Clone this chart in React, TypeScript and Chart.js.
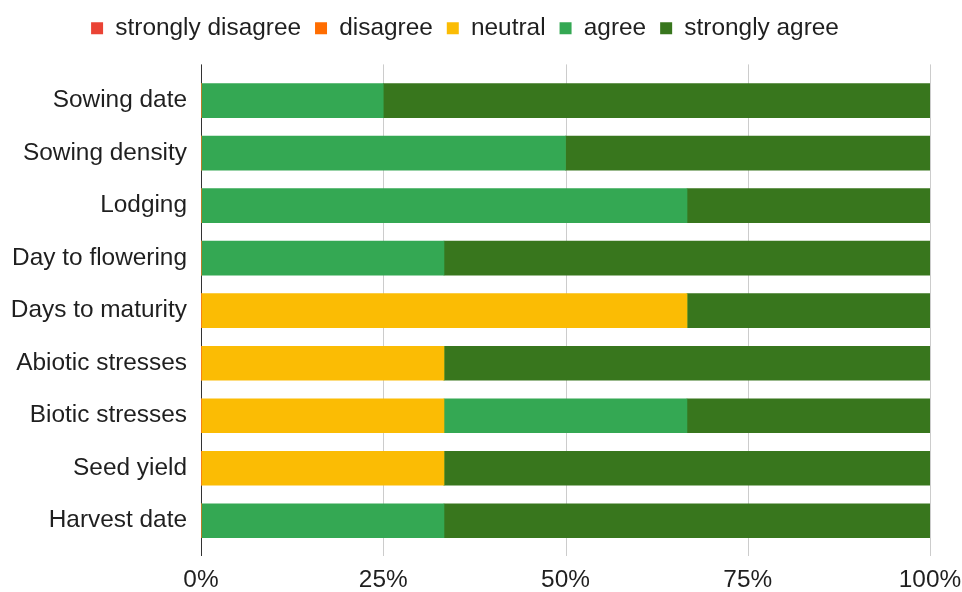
import React, { useEffect, useRef } from "react";
import { Chart, registerables } from "chart.js";

Chart.register(...registerables);

const categories = [
  "Sowing date",
  "Sowing density",
  "Lodging",
  "Day to flowering",
  "Days to maturity",
  "Abiotic stresses",
  "Biotic stresses",
  "Seed yield",
  "Harvest date",
];
const stronglyDisagree = [0, 0, 0, 0, 0, 0, 0, 0, 0];
const disagree = [0, 0, 0, 0, 0, 0, 0, 0, 0];
const neutral = [0, 0, 0, 0, 66.67, 33.33, 33.33, 33.33, 0];
const agree = [25, 50, 66.67, 33.33, 0, 0, 33.33, 0, 33.33];
const stronglyAgree = [75, 50, 33.33, 66.67, 33.33, 66.67, 33.34, 66.67, 66.67];
const xTicks = [0, 25, 50, 75, 100];

const FONT = "'Liberation Sans', Arial, sans-serif";
const FS = 24.4;

const gridPlugin = {
  id: "gridExt",
  beforeInit(chart: any) {
    const legend = chart.legend;
    if (legend) {
      const fit = legend.fit;
      legend.fit = function () {
        fit.call(this);
        this.height += 24;
      };
    }
  },
  afterLayout(chart: any) {
    const legend = chart.legend;
    if (legend) {
      legend.left -= 16;
      legend.right -= 16;
    }
  },
  beforeDatasetsDraw(chart: any) {
    const { ctx, chartArea, scales } = chart;
    const x = scales.x;
    ctx.save();
    ctx.lineWidth = 1;
    xTicks.forEach((v) => {
      const px = Math.round(x.getPixelForValue(v)) + 0.5;
      ctx.strokeStyle = v === 0 ? "#333333" : "#cccccc";
      ctx.beginPath();
      ctx.moveTo(px, chartArea.top - 10);
      ctx.lineTo(px, chartArea.bottom + 9);
      ctx.stroke();
    });
    ctx.restore();
  },
};

export default function App() {
  const ref = useRef<HTMLCanvasElement>(null);
  useEffect(() => {
    if (!ref.current) return;
    const chart = new Chart(ref.current, {
      type: "bar",
      data: {
        labels: categories,
        datasets: [
          { label: "strongly disagree", data: stronglyDisagree, backgroundColor: "#ea4335" },
          { label: "disagree", data: disagree, backgroundColor: "#ff6d01" },
          { label: "neutral", data: neutral, backgroundColor: "#fbbc04" },
          { label: "agree", data: agree, backgroundColor: "#34a853" },
          { label: "strongly agree", data: stronglyAgree, backgroundColor: "#38761d" },
        ],
      },
      options: {
        indexAxis: "y",
        animation: false,
        responsive: false,
        maintainAspectRatio: false,
        layout: { padding: { left: 0, right: 0, top: 2, bottom: 0 } },
        datasets: { bar: { barThickness: 34, borderWidth: 0 } },
        plugins: {
          tooltip: { enabled: false },
          legend: {
            position: "top",
            labels: {
              usePointStyle: true,
              pointStyle: "rect",
              boxWidth: 12,
              boxHeight: 12,
              padding: 14,
              color: "#1f1f1f",
              font: { family: FONT, size: FS },
            },
          },
        },
        scales: {
          x: {
            stacked: true,
            min: 0,
            max: 100,
            afterBuildTicks: (s: any) => {
              s.ticks = xTicks.map((v) => ({ value: v }));
            },
            afterFit: (s: any) => {
              s.height = 45;
              s.paddingRight = 32;
            },
            grid: { display: false, drawTicks: false },
            border: { display: false },
            ticks: {
              padding: 19,
              color: "#1f1f1f",
              maxRotation: 0,
              font: { family: FONT, size: FS },
              callback: (v: any) => v + "%",
            },
          },
          y: {
            stacked: true,
            afterFit: (s: any) => {
              s.width = 201;
            },
            grid: { display: false, drawTicks: false },
            border: { display: false },
            ticks: {
              padding: 14,
              color: "#1f1f1f",
              font: { family: FONT, size: FS },
            },
          },
        },
      },
      plugins: [gridPlugin],
    } as any);
    return () => chart.destroy();
  }, []);
  return (
    <div style={{ position: "fixed", left: 0, top: 0, width: 962, height: 592, background: "#fff" }}>
      <canvas ref={ref} width={962} height={592} style={{ width: 962, height: 592 }} />
    </div>
  );
}
